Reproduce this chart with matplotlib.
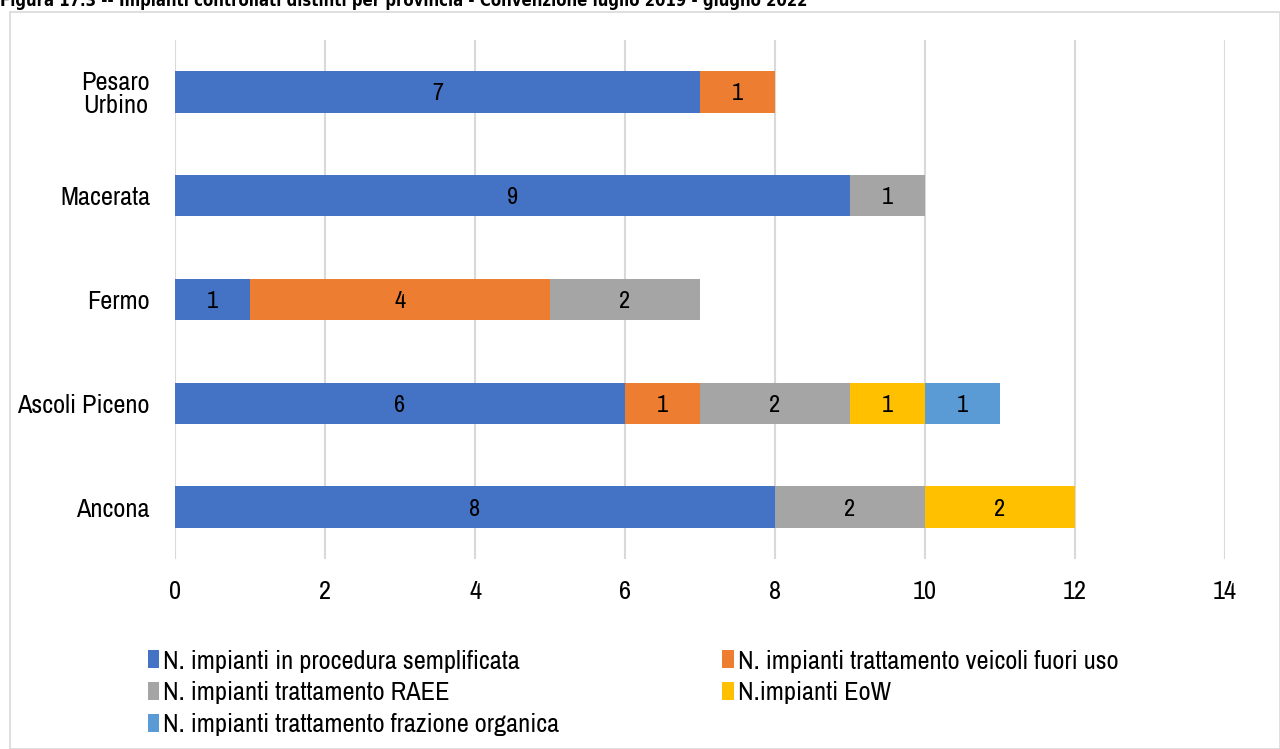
import matplotlib
matplotlib.use("Agg")
import matplotlib.pyplot as plt
from matplotlib.patches import Rectangle

plt.rcParams["font.family"] = ["Liberation Sans Narrow", "Archivo Narrow", "Liberation Sans", "DejaVu Sans"]

provinces = ["Ancona", "Ascoli Piceno", "Fermo", "Macerata", "Pesaro\nUrbino"]
series_names = [
    "N. impianti in procedura semplificata",
    "N. impianti trattamento veicoli fuori uso",
    "N. impianti trattamento RAEE",
    "N.impianti EoW",
    "N. impianti trattamento frazione organica",
]
semplificata = [8, 6, 1, 9, 7]
veicoli = [0, 1, 4, 0, 1]
raee = [2, 2, 2, 1, 0]
eow = [2, 1, 0, 0, 0]
organica = [0, 1, 0, 0, 0]
colors = ["#4472C4", "#ED7D31", "#A5A5A5", "#FFC000", "#5B9BD5"]
xticks = [0, 2, 4, 6, 8, 10, 12, 14]

fig = plt.figure(figsize=(12.8, 7.49), dpi=100)
fig.patches.append(Rectangle((10 / 1280, 0), 1 - 10 / 1280, 1 - 12 / 749,
                             transform=fig.transFigure, fill=False,
                             edgecolor="#d9d9d9", linewidth=1.2))
fig.text(0.0, 1 - 1 / 749, "Figura 17.3 -- Impianti controllati distinti per provincia - "
         "Convenzione luglio 2019 - giugno 2022", fontsize=12, fontweight="bold",
         family="DejaVu Sans", fontstretch="condensed", ha="left", va="center")

ax = fig.add_axes([175 / 1280, 1 - 559 / 749, 1050 / 1280, 519 / 749])
y = range(len(provinces))
left = [0] * len(provinces)
for name, vals, c in zip(series_names,
                         [semplificata, veicoli, raee, eow, organica], colors):
    bars = ax.barh(y, vals, left=left, height=0.40, color=c, label=name, zorder=3)
    for b, v, l in zip(bars, vals, left):
        if v:
            ax.text(l + v / 2, b.get_y() + b.get_height() / 2, str(v),
                    ha="center", va="center_baseline", fontsize=17.5,
                    color="black", zorder=4)
    left = [a + b for a, b in zip(left, vals)]

ax.set_xlim(0, 14)
ax.set_ylim(-0.5, 4.5)
ax.set_xticks(xticks)
ax.set_xticklabels([str(t) for t in xticks])
ax.set_yticks(list(y))
ax.set_yticklabels(provinces, linespacing=1.0, multialignment="center")
ax.tick_params(axis="both", length=0, labelsize=19)
ax.tick_params(axis="x", pad=15)
ax.tick_params(axis="y", pad=18)
ax.grid(axis="x", color="#d9d9d9", linewidth=1.5, zorder=0)
for s in ax.spines.values():
    s.set_visible(False)

handles, labels = ax.get_legend_handles_labels()
order = [0, 2, 4, 1, 3]
leg = fig.legend([handles[i] for i in order], [labels[i] for i in order],
                 loc="upper left", bbox_to_anchor=(137 / 1280, 1 - 639 / 749),
                 ncol=2, frameon=False, fontsize=19, handlelength=0.45,
                 handleheight=0.65, handletextpad=0.15, columnspacing=6.15,
                 labelspacing=0.33, borderaxespad=0)

fig.savefig("out.png", dpi=100)
